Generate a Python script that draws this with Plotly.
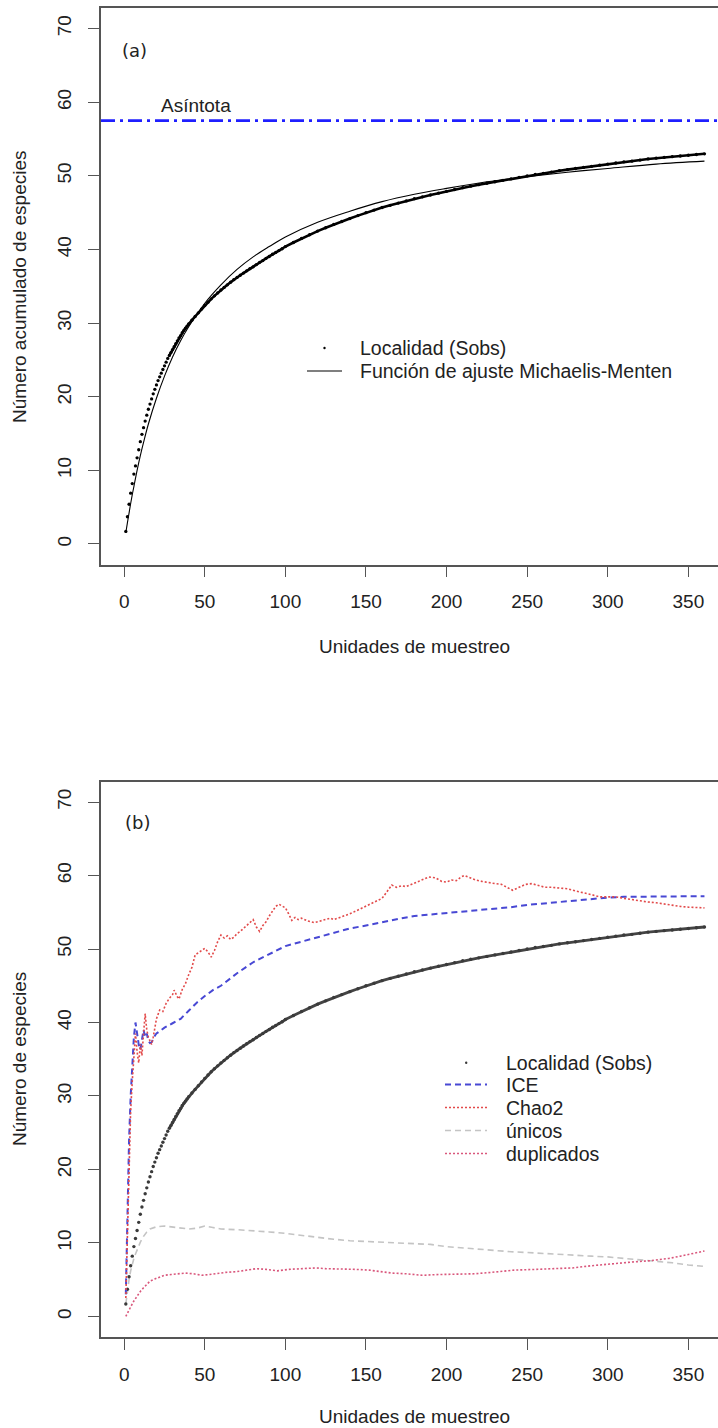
import plotly.graph_objects as go

# ---------------- data ----------------
X_TICKS = [0, 50, 100, 150, 200, 250, 300, 350]
Y_TICKS = [0, 10, 20, 30, 40, 50, 60, 70]

sobs_x = list(range(1, 41)) + list(range(42, 101, 2)) + list(range(105, 361, 5))
sobs_y = [1.7, 3.7, 5.4, 6.9, 8.2, 9.5, 10.6, 11.7, 12.8, 13.9,
          14.9, 15.8, 16.7, 17.5, 18.3, 19.0, 19.7, 20.4, 21.0, 21.6,
          22.2, 22.7, 23.2, 23.7, 24.2, 24.7, 25.2, 25.6, 26.0, 26.4,
          26.8, 27.2, 27.6, 28.0, 28.3, 28.7, 29.0, 29.3, 29.6, 29.9,
          30.4, 30.9, 31.4, 31.9, 32.4, 32.85, 33.3, 33.7, 34.1, 34.5,
          34.85, 35.2, 35.55, 35.9, 36.2, 36.5, 36.8, 37.1, 37.4, 37.65,
          37.95, 38.25, 38.5, 38.8, 39.05, 39.35, 39.6, 39.85, 40.1, 40.4,
          40.95, 41.5, 42.0, 42.5, 42.95, 43.4, 43.8, 44.2, 44.6, 45.0,
          45.35, 45.7, 46.0, 46.3, 46.6, 46.9, 47.15, 47.4, 47.65, 47.9,
          48.15, 48.4, 48.6, 48.8, 49.0, 49.2, 49.4, 49.6, 49.8, 50.0,
          50.2, 50.35, 50.5, 50.7, 50.85, 51.0, 51.15, 51.3, 51.45, 51.6,
          51.75, 51.9, 52.0, 52.15, 52.3, 52.4, 52.5, 52.6, 52.7, 52.8,
          52.9, 53.0]

mm_x = [1, 2, 3, 4, 5, 6, 8, 10, 12, 15, 20, 25, 30, 35, 40, 50, 60, 70, 80, 90,
        100, 120, 140, 160, 180, 200, 225, 250, 275, 300, 330, 360]
mm_y = [1.5, 2.9, 4.2, 5.5, 6.7, 7.8, 10.0, 12.0, 13.8, 16.3, 19.8, 22.8, 25.4, 27.6,
        29.5, 32.7, 35.2, 37.3, 39.0, 40.4, 41.7, 43.7, 45.2, 46.5, 47.5, 48.3, 49.2,
        49.9, 50.5, 51.0, 51.6, 52.0]

ASINTOTA = 57.5

ice_x = [1, 2, 3, 4, 5, 6, 7, 8, 9, 10, 11, 12, 13, 14, 15, 16, 17, 18, 19, 20, 22, 25,
         30, 35, 40, 45, 50, 55, 60, 70, 80, 90, 100, 110, 120, 130, 140, 150, 160, 170,
         180, 190, 200, 210, 220, 230, 240, 250, 260, 270, 280, 290, 300, 310, 320, 330,
         340, 350, 360]
ice_y = [3.0, 14, 24, 30, 34, 38, 40, 38.5, 37, 36.3, 37.5, 39, 38, 38.5, 37.5, 37.2,
         37.3, 37.8, 38.2, 38.5, 38.8, 39.3, 39.9, 40.5, 41.6, 42.7, 43.6, 44.4, 45.0,
         46.7, 48.2, 49.3, 50.4, 51.0, 51.6, 52.2, 52.8, 53.2, 53.7, 54.1, 54.5, 54.7,
         54.8, 55.0, 55.2, 55.4, 55.7, 56.0, 56.2, 56.4, 56.6, 56.9, 57.0, 57.1, 57.1,
         57.1, 57.1, 57.1, 57.2]

chao2_x = [1, 2, 3, 4, 5, 6, 7, 8, 9, 10, 11, 12, 13, 14, 15, 16, 17, 18, 19, 20,
           22, 24, 26, 28, 30, 31, 33, 34, 36, 38, 40, 42, 44, 46, 48, 50, 52, 54, 56,
           58, 60, 62, 64, 66, 68, 70, 72, 74, 76, 78, 80, 82, 84, 86, 88, 90, 92, 94,
           96, 98, 100, 102, 104, 106, 108, 110, 114, 118, 120, 124, 128, 130, 134, 138,
           140, 144, 148, 150, 154, 158, 160, 163, 166, 169, 172, 175, 178, 181, 185,
           189, 193, 197, 200, 203, 206, 209, 211, 214, 218, 222, 226, 230, 234, 238,
           241, 245, 249, 253, 257, 261, 265, 270, 275, 280, 285, 290, 295, 300, 305,
           310, 315, 320, 325, 330, 335, 340, 345, 350, 355, 360]
chao2_y = [2.5, 12, 21, 28, 32, 35, 38.5, 36, 34.5, 37, 35.5, 38.5, 41.2, 39, 38, 37.5,
           37, 38, 39.5, 40.5, 41.7, 41.5, 42.6, 43.3, 43.8, 44.4, 43.5, 43.2, 44.5, 45.3,
           46.5, 47.5, 49.2, 49.5, 49.8, 50.1, 49.6, 48.9, 49.8, 51.0, 51.9, 51.5, 51.8,
           51.3, 51.6, 52.1, 52.4, 52.8, 53.1, 53.6, 54.0, 53.0, 52.4, 53.2, 53.7, 54.5,
           55.2, 55.8, 56.1, 55.8, 55.6, 54.8, 53.9, 54.3, 54.0, 54.2, 53.8, 53.6, 53.7,
           53.9, 54.2, 54.0, 54.3, 54.6, 54.8, 55.2, 55.6, 55.9, 56.2, 56.6, 56.9, 57.8,
           58.7, 58.4, 58.6, 58.5, 58.8, 59.1, 59.4, 59.8, 59.7, 59.2, 59.1, 59.4, 59.3,
           59.8, 60.0, 59.7, 59.4, 59.2, 59.0, 58.9, 58.8, 58.3, 58.0, 58.4, 58.8, 58.9,
           58.6, 58.4, 58.4, 58.3, 58.2, 57.9, 57.7, 57.4, 57.1, 57.1, 57.1, 56.9, 56.7,
           56.6, 56.4, 56.3, 56.1, 55.9, 55.8, 55.7, 55.6, 55.6]

unicos_x = [1, 2, 3, 4, 5, 6, 7, 8, 10, 12, 14, 16, 18, 20, 25, 30, 35, 40, 45, 50, 55,
            60, 70, 80, 90, 100, 110, 120, 130, 140, 150, 160, 170, 180, 190, 200, 210,
            220, 230, 240, 250, 260, 270, 280, 290, 300, 310, 320, 330, 340, 350, 360]
unicos_y = [1.7, 3.5, 5.0, 6.2, 7.2, 7.9, 8.5, 9.1, 10.1, 10.9, 11.5, 11.9, 12.1, 12.2,
            12.3, 12.2, 12.0, 11.9, 12.0, 12.3, 12.1, 11.9, 11.8, 11.7, 11.5, 11.3, 11.0,
            10.7, 10.5, 10.3, 10.2, 10.1, 10.1, 10.0, 9.8, 9.5, 9.3, 9.1, 8.9, 8.8, 8.7,
            8.6, 8.4, 8.3, 8.2, 8.1, 7.9, 7.8, 7.6, 7.3, 7.0, 6.8]

dupl_x = [1, 2, 4, 6, 8, 10, 12, 14, 16, 19, 22, 25, 29, 33, 38, 43, 48, 53, 58, 63, 70,
          76, 82, 88, 95, 102, 110, 119, 125, 132, 144, 152, 160, 166, 175, 185, 195,
          205, 217, 228, 242, 255, 265, 278, 290, 303, 315, 327, 338, 345, 352, 360]
dupl_y = [0, 0.5, 1.3, 2.1, 2.8, 3.4, 3.9, 4.4, 4.8, 5.1, 5.4, 5.6, 5.7, 5.8, 5.9, 5.8,
          5.6, 5.7, 5.9, 6.0, 6.1, 6.3, 6.5, 6.4, 6.2, 6.4, 6.5, 6.6, 6.5, 6.5, 6.4, 6.3,
          6.1, 5.9, 5.8, 5.6, 5.7, 5.7, 5.8, 6.0, 6.3, 6.4, 6.5, 6.6, 6.9, 7.2, 7.4, 7.6,
          7.9, 8.2, 8.5, 8.9]

# ---------------- styles ----------------
FONT = "Liberation Sans, Arial, Helvetica, sans-serif"
TXT = "#222222"
AX = "#555555"
C_ICE = "#4848d4"
C_CHAO = "#e24a4a"
C_UNI = "#c4c4c4"
C_DUP = "#d9577c"
C_ASI = "#1f1fff"
DASH = "6px,4px"
DOT = "2px,2px"
LINE_FROM = 27  # index in sobs_x where the dots merge into a continuous band

W, H = 718, 1428
ML, MT, MB = 101, 8, 91
PW, PH = W - ML, H - MT - MB


def px(xp):
    return (xp - ML) / PW


def py(yp):
    return (H - MB - yp) / PH


fig = go.Figure()

# ---------- panel (a) ----------
fig.add_trace(go.Scatter(x=sobs_x[LINE_FROM:], y=sobs_y[LINE_FROM:], mode="lines",
                         line=dict(color="black", width=2.6), xaxis="x", yaxis="y",
                         showlegend=False, hoverinfo="skip"))
fig.add_trace(go.Scatter(x=sobs_x, y=sobs_y, mode="markers", name="Localidad (Sobs)",
                         marker=dict(color="black", size=3.3), xaxis="x", yaxis="y",
                         showlegend=False))
fig.add_trace(go.Scatter(x=mm_x, y=mm_y, mode="lines", line_shape="spline",
                         name="Función de ajuste Michaelis-Menten",
                         line=dict(color="black", width=1.1), xaxis="x", yaxis="y",
                         showlegend=False))

# ---------- panel (b) ----------
fig.add_trace(go.Scatter(x=unicos_x, y=unicos_y, mode="lines", name="únicos",
                         line=dict(color=C_UNI, width=1.6, dash=DASH), xaxis="x2", yaxis="y2",
                         showlegend=False))
fig.add_trace(go.Scatter(x=dupl_x, y=dupl_y, mode="lines", name="duplicados",
                         line=dict(color=C_DUP, width=1.6, dash=DOT), xaxis="x2", yaxis="y2",
                         showlegend=False))
fig.add_trace(go.Scatter(x=sobs_x[LINE_FROM:], y=sobs_y[LINE_FROM:], mode="lines",
                         line=dict(color="#444444", width=2.8), xaxis="x2", yaxis="y2",
                         showlegend=False, hoverinfo="skip"))
fig.add_trace(go.Scatter(x=sobs_x, y=sobs_y, mode="markers", name="Localidad (Sobs)",
                         marker=dict(color="#3a3a3a", size=3.4), xaxis="x2", yaxis="y2",
                         showlegend=False))
fig.add_trace(go.Scatter(x=ice_x, y=ice_y, mode="lines", name="ICE",
                         line=dict(color=C_ICE, width=2, dash=DASH), xaxis="x2", yaxis="y2",
                         showlegend=False))
fig.add_trace(go.Scatter(x=chao2_x, y=chao2_y, mode="lines", name="Chao2",
                         line=dict(color=C_CHAO, width=1.6, dash=DOT), xaxis="x2", yaxis="y2",
                         showlegend=False))

xa = dict(range=[-14.4, 368.4], tickmode="array", tickvals=X_TICKS, ticks="outside",
          ticklen=11, tickwidth=1.2, tickcolor=AX, showline=True, linecolor=AX,
          linewidth=1.6, mirror=True, showgrid=False, zeroline=False,
          tickfont=dict(size=19, family=FONT, color=TXT), ticklabelstandoff=8)
ya = dict(range=[-2.8, 72.8], tickmode="array", tickvals=Y_TICKS, ticks="outside",
          ticklen=11, tickwidth=1.2, tickcolor=AX, showline=True, linecolor=AX,
          linewidth=1.6, mirror=False, showgrid=False, zeroline=False, tickangle=-90,
          tickfont=dict(size=19, family=FONT, color=TXT), ticklabelstandoff=10)

bot_a = py(564.6)
top_b = py(781.5)
fig.update_layout(
    width=W, height=H,
    margin=dict(l=ML, r=0, t=MT, b=MB),
    paper_bgcolor="white", plot_bgcolor="white",
    showlegend=False,
    xaxis=dict(xa, domain=[0, 1], anchor="y"),
    yaxis=dict(ya, domain=[bot_a, 1], anchor="x"),
    xaxis2=dict(xa, domain=[0, 1], anchor="y2"),
    yaxis2=dict(ya, domain=[0, top_b], anchor="x2"),
)

# asymptote (spans the whole panel (a) width)
fig.add_hline(y=ASINTOTA, line=dict(color=C_ASI, width=2.6, dash="14px,5px,3px,5px"))

ann = []
f19 = dict(size=19, family=FONT, color=TXT)
# axis titles
ann.append(dict(text="Unidades de muestreo", x=px(414), y=py(647), xref="paper", yref="paper",
                showarrow=False, font=f19, xanchor="center", yanchor="middle"))
ann.append(dict(text="Unidades de muestreo", x=px(414), y=py(1416), xref="paper", yref="paper",
                showarrow=False, font=f19, xanchor="center", yanchor="middle"))
ann.append(dict(text="Número acumulado de especies", x=px(19), y=py(287), xref="paper",
                yref="paper", showarrow=False, font=f19, textangle=-90,
                xanchor="center", yanchor="middle"))
ann.append(dict(text="Número de especies", x=px(19), y=py(1059), xref="paper",
                yref="paper", showarrow=False, font=f19, textangle=-90,
                xanchor="center", yanchor="middle"))
# panel labels
ann.append(dict(text="(a)", x=px(134), y=py(51), xref="paper", yref="paper", showarrow=False,
                font=dict(size=18, family="DejaVu Sans", color=TXT),
                xanchor="center", yanchor="middle"))
ann.append(dict(text="(b)", x=px(137), y=py(822), xref="paper", yref="paper", showarrow=False,
                font=dict(size=18, family="DejaVu Sans", color=TXT),
                xanchor="center", yanchor="middle"))
ann.append(dict(text="Asíntota", x=px(159), y=py(105), xref="paper", yref="paper",
                showarrow=False, font=f19, xanchor="left", yanchor="middle"))

shapes = []
# legend (a)
leg_a = [("Localidad (Sobs)", 348), ("Función de ajuste Michaelis-Menten", 371)]
for t, yy in leg_a:
    ann.append(dict(text=t, x=px(358), y=py(yy), xref="paper", yref="paper",
                    showarrow=False, font=dict(size=19.5, family=FONT, color=TXT),
                    xanchor="left", yanchor="middle"))
shapes.append(dict(type="circle", xref="paper", yref="paper",
                   x0=px(323.3), x1=px(325.7), y0=py(349.2), y1=py(346.8),
                   fillcolor="black", line=dict(width=0)))
shapes.append(dict(type="line", xref="paper", yref="paper", x0=px(307), x1=px(342),
                   y0=py(371), y1=py(371), line=dict(color="black", width=1.1)))

# legend (b)
leg_b = [("Localidad (Sobs)", 1062.7, None, None, None),
         ("ICE", 1084.5, C_ICE, DASH, 2),
         ("Chao2", 1107.5, C_CHAO, DOT, 1.6),
         ("únicos", 1130.5, C_UNI, DASH, 1.6),
         ("duplicados", 1153.5, C_DUP, DOT, 1.6)]
for t, yy, c, d, w in leg_b:
    ann.append(dict(text=t, x=px(504), y=py(yy), xref="paper", yref="paper",
                    showarrow=False, font=dict(size=19.5, family=FONT, color=TXT),
                    xanchor="left", yanchor="middle"))
    if c is None:
        shapes.append(dict(type="circle", xref="paper", yref="paper",
                           x0=px(465), x1=px(467.4), y0=py(yy + 1.2), y1=py(yy - 1.2),
                           fillcolor="#3a3a3a", line=dict(width=0)))
    else:
        shapes.append(dict(type="line", xref="paper", yref="paper", x0=px(445), x1=px(487),
                           y0=py(yy), y1=py(yy), line=dict(color=c, width=w, dash=d)))

fig.update_layout(annotations=ann, shapes=list(fig.layout.shapes) + shapes)

fig.write_html("out.html")
